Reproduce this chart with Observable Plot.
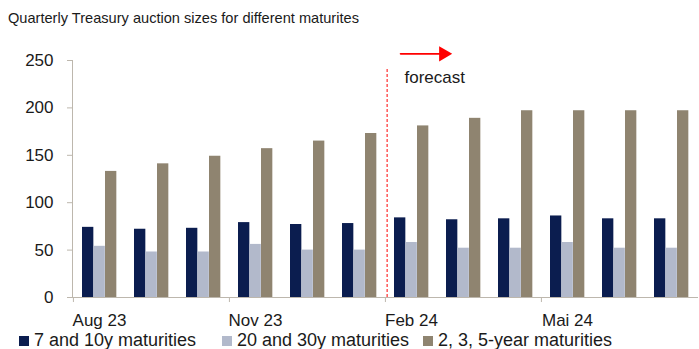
<!DOCTYPE html>
<html>
<head>
<meta charset="utf-8">
<script src="https://cdn.jsdelivr.net/npm/d3@7"></script>
<script src="https://cdn.jsdelivr.net/npm/@observablehq/plot@0.6"></script>
<style>
  html, body { margin: 0; padding: 0; background: #fff; }
  body { width: 699px; height: 349px; overflow: hidden; font-family: "Liberation Sans", Arial, sans-serif; color: #1a1a1a; }
  #title { height: 36px; line-height: 36px; padding-left: 8px; font-size: 14.6px; white-space: nowrap; }
  #chart svg { display: block; }
  #legend { position: absolute; top: 331px; left: 0; height: 18px; font-size: 18px; line-height: 18px; white-space: nowrap; }
  .item { position: absolute; top: 0; }
  .sw { display: inline-block; width: 10px; height: 10px; margin-right: 5px; vertical-align: 0px; }
</style>
</head>
<body>
<div id="title">Quarterly Treasury auction sizes for different maturites</div>
<div id="chart"></div>
<div id="legend"></div>
<script>
const months = ["Aug 23","Sep 23","Oct 23","Nov 23","Dec 23","Jan 24","Feb 24","Mar 24","Apr 24","Mai 24","Jun 24","Jul 24"];
const labelledMonths = ["Aug 23","Nov 23","Feb 24","Mai 24"];
const seriesNames = ["7 and 10y maturities","20 and 30y maturities","2, 3, 5-year maturities"];
const values7to10 = [74,72,73,79,77,78,84,82,83,86,83,83];
const values20to30 = [54,48,48,56,50,50,58,52,52,58,52,52];
const values2to5 = [133,141,149,157,165,173,181,189,197,197,197,197];
const yTicks = [0,50,100,150,200,250];
const forecastStart = "Feb 24";
const forecastLabel = "forecast";

const colors = ["#0b1d4f", "#b2b9cb", "#8f8470"];
const axisColor = "#bdb7ad";
const W = 699, H = 296, mL = 72, mR = 1, mT = 24, mB = 35;
const bw = (W - mL - mR) / months.length;
// bar spans inside each month band (pixels from band start)
const spans = [[9, 20.5], [20.5, 32], [32, 43.5]];

const seriesValues = [values7to10, values20to30, values2to5];
const bars = seriesValues.map((vals, s) =>
  Plot.barY(months.map((m, i) => ({month: m, value: vals[i], series: seriesNames[s]})), {
    x: "month", y: "value", fill: colors[s],
    insetLeft: spans[s][0], insetRight: bw - spans[s][1]
  })
);

const chart = Plot.plot({
  width: W, height: H,
  marginLeft: mL, marginRight: mR, marginTop: mT, marginBottom: mB,
  style: {fontFamily: "'Liberation Sans', Arial, sans-serif", fontSize: "17px", color: "#1a1a1a", background: "#fff"},
  x: {domain: months, padding: 0, axis: null, label: null},
  y: {domain: [0, 250], axis: null, label: null},
  marks: [
    ...bars,
    Plot.ruleY([0], {stroke: axisColor}),
    Plot.frame({anchor: "left", stroke: axisColor}),
    Plot.axisY(yTicks, {tickSize: 5, tickPadding: 14, stroke: axisColor, fill: "#1a1a1a", fontSize: 17, label: null}),
    Plot.axisX(labelledMonths, {tickSize: 0, tickPadding: 16, fill: "#1a1a1a", fontSize: 17, label: null}),
    Plot.ruleX(labelledMonths, {x: d => d, y1: 0, y2: -5.3, dx: -bw / 2, stroke: axisColor}),
    Plot.ruleX([forecastStart], {x: d => d, y1: 0, y2: 241, dx: -bw / 2 + 1.7, stroke: "#ff0000", strokeDasharray: "3,2", strokeWidth: 1}),
    Plot.arrow([0], {x1: () => months[months.indexOf(forecastStart) - 1], x2: () => months[months.indexOf(forecastStart) + 1], y1: () => 257, y2: () => 257,
      headLength: 0, insetStart: 41, insetEnd: 23, stroke: "#ff0000", strokeWidth: 1.6}),
    Plot.dot([0], {x: () => months[months.indexOf(forecastStart) + 1], y: () => 257, symbol: "triangle", rotate: 90, r: 5.6, fill: "#ff0000", stroke: "none", dx: -20}),
    Plot.text([forecastLabel], {x: () => forecastStart, y: () => 232, text: d => d, textAnchor: "start", dx: -7, fontSize: 17, fill: "#1a1a1a"})
  ]
});
document.getElementById("chart").appendChild(chart);

const legend = document.getElementById("legend");
const lefts = [19, 222, 423];
seriesNames.forEach((name, i) => {
  const it = document.createElement("span");
  it.className = "item";
  it.style.left = lefts[i] + "px";
  it.innerHTML = `<span class="sw" style="background:${colors[i]}"></span>${name}`;
  legend.appendChild(it);
});
</script>
</body>
</html>
